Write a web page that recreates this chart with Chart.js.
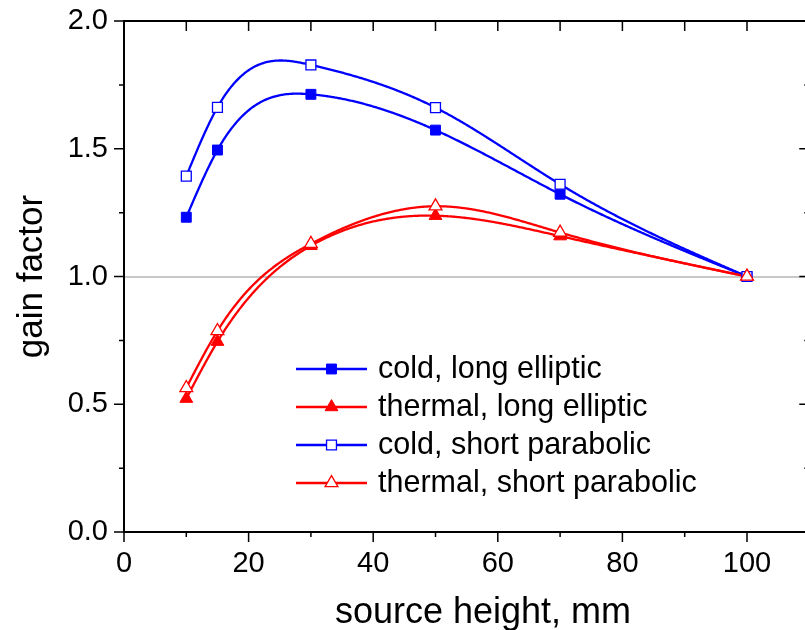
<!DOCTYPE html>
<html>
<head>
<meta charset="utf-8">
<script src="https://cdn.jsdelivr.net/npm/chart.js@4.4.1/dist/chart.umd.min.js"></script>
<style>
  html, body { margin: 0; padding: 0; background: #fff; overflow: hidden; }
  .gf-wrap { width: 805px; height: 630px; overflow: hidden; position: relative; }
  #gf-canvas { position: absolute; left: 0; top: 0; }
</style>
</head>
<body>
<div class="gf-wrap"><canvas id="gf-canvas" width="818" height="630"></canvas></div>
<script>
// ── Data ─────────────────────────────────────────────────────────────────────
const heights      = [10, 15, 30, 50, 70, 100];
const coldLong     = [1.232, 1.495, 1.713, 1.573, 1.322, 1.0];
const thermalLong  = [0.522, 0.745, 1.120, 1.238, 1.158, 1.0];
const coldShort    = [1.393, 1.662, 1.828, 1.661, 1.361, 1.0];
const thermalShort = [0.564, 0.787, 1.128, 1.275, 1.172, 1.0];
const seriesNames  = ['cold, long elliptic', 'thermal, long elliptic', 'cold, short parabolic', 'thermal, short parabolic'];
const xTicks = [0, 20, 40, 60, 80, 100];
const yTicks = [0.0, 0.5, 1.0, 1.5, 2.0];

const FONT = "'Liberation Sans', Arial, sans-serif";
const BLUE = '#0000ff';
const RED  = '#ff0000';

const toPoints = ys => heights.map((h, i) => ({ x: h, y: ys[i] }));

// later series are painted over earlier ones (lower order = on top)
function series(label, ys, color, style, filled, order) {
  const radius = style === 'triangle' ? 7.4 : 7;
  return {
    label,
    order,
    data: toPoints(ys),
    showLine: false,
    borderColor: color,
    backgroundColor: filled ? color : '#ffffff',
    pointStyle: style,
    pointRadius: radius,
    pointBorderWidth: filled ? 1 : 1.3,
    pointBorderColor: color,
    pointBackgroundColor: filled ? color : '#ffffff'
  };
}

// ── Natural cubic spline through the points of a series ──────────────────────
function naturalSpline(xs, ys) {
  const n = xs.length;
  const h = [], alpha = [0], l = [1], mu = [0], z = [0];
  for (let i = 0; i < n - 1; i++) h.push(xs[i + 1] - xs[i]);
  for (let i = 1; i < n - 1; i++) {
    alpha[i] = 3 / h[i] * (ys[i + 1] - ys[i]) - 3 / h[i - 1] * (ys[i] - ys[i - 1]);
  }
  for (let i = 1; i < n - 1; i++) {
    l[i]  = 2 * (xs[i + 1] - xs[i - 1]) - h[i - 1] * mu[i - 1];
    mu[i] = h[i] / l[i];
    z[i]  = (alpha[i] - h[i - 1] * z[i - 1]) / l[i];
  }
  const b = [], c = new Array(n).fill(0), d = [];
  for (let j = n - 2; j >= 0; j--) {
    c[j] = z[j] - mu[j] * c[j + 1];
    b[j] = (ys[j + 1] - ys[j]) / h[j] - h[j] * (c[j + 1] + 2 * c[j]) / 3;
    d[j] = (c[j + 1] - c[j]) / (3 * h[j]);
  }
  return v => {
    let j = 0;
    while (j < n - 2 && v > xs[j + 1]) j++;
    const t = v - xs[j];
    return ys[j] + b[j] * t + c[j] * t * t + d[j] * t * t * t;
  };
}

const splinePlugin = {
  id: 'splineLines',
  beforeDatasetsDraw(chart) {
    const { ctx, chartArea: a, scales: { x, y } } = chart;
    ctx.save();
    ctx.beginPath();
    ctx.rect(a.left, a.top, a.right - a.left, a.bottom - a.top);
    ctx.clip();
    ctx.lineWidth = 2.3;
    ctx.lineJoin = 'round';
    chart.data.datasets.forEach(ds => {
      const xs = ds.data.map(p => p.x);
      const ys = ds.data.map(p => p.y);
      const f = naturalSpline(xs, ys);
      const p0 = x.getPixelForValue(xs[0]);
      const p1 = x.getPixelForValue(xs[xs.length - 1]);
      ctx.beginPath();
      for (let px = p0; px <= p1 + 0.01; px += 1) {
        const py = y.getPixelForValue(f(x.getValueForPixel(px)));
        if (px === p0) ctx.moveTo(px, py); else ctx.lineTo(px, py);
      }
      ctx.strokeStyle = ds.borderColor;
      ctx.stroke();
    });
    ctx.restore();
  }
};

// ── Box frame, ticks and axis titles ─────────────────────────────────────────
const framePlugin = {
  id: 'frame',
  afterDraw(chart) {
    const { ctx, chartArea: a, scales: { x, y } } = chart;
    ctx.save();
    ctx.strokeStyle = '#000';
    ctx.lineWidth = 2;
    ctx.strokeRect(a.left, a.top, a.right - a.left, a.bottom - a.top);

    ctx.lineWidth = 1.5;
    ctx.beginPath();
    for (let v = 0; v <= 110; v += 10) {
      const px = x.getPixelForValue(v);
      const major = v % 20 === 0;
      ctx.moveTo(px, a.bottom); ctx.lineTo(px, a.bottom + (major ? 10 : 5));
      ctx.moveTo(px, a.top);    ctx.lineTo(px, a.top + 10);
    }
    for (let v = 0; v <= 2.001; v += 0.25) {
      const py = y.getPixelForValue(v);
      const major = Math.abs(v * 2 - Math.round(v * 2)) < 1e-6;
      ctx.moveTo(a.left, py);  ctx.lineTo(a.left - (major ? 10 : 5), py);
      ctx.moveTo(a.right, py); ctx.lineTo(a.right - (major ? 10 : 5), py);
    }
    ctx.stroke();

    ctx.fillStyle = '#000';
    ctx.font = `36px ${FONT}`;
    ctx.textAlign = 'center';
    ctx.textBaseline = 'alphabetic';
    ctx.fillText('source height, mm', 483, 623);

    ctx.save();
    ctx.translate(42, (a.top + a.bottom) / 2);
    ctx.rotate(-Math.PI / 2);
    ctx.font = `35px ${FONT}`;
    ctx.fillText('gain factor', 0, 0);
    ctx.restore();
    ctx.restore();
  }
};

// ── Legend: line sample with marker, then label ─────────────────────────────
const legendPlugin = {
  id: 'lineLegend',
  afterDatasetsDraw(chart) {
    const { ctx } = chart;
    const rowY = [369, 407, 445, 483];
    ctx.save();
    chart.data.datasets.forEach((ds, i) => {
      const yy = rowY[i];
      ctx.strokeStyle = ds.borderColor;
      ctx.lineWidth = 2.3;
      ctx.beginPath();
      ctx.moveTo(296, yy); ctx.lineTo(367, yy);
      ctx.stroke();
      ctx.fillStyle = ds.pointBackgroundColor;
      ctx.strokeStyle = ds.pointBorderColor;
      ctx.lineWidth = ds.pointBorderWidth;
      Chart.helpers.drawPoint(ctx, {
        pointStyle: ds.pointStyle, radius: ds.pointRadius, rotation: 0, borderWidth: ds.pointBorderWidth
      }, 331.5, yy);
      ctx.fillStyle = '#000';
      ctx.font = `30.5px ${FONT}`;
      ctx.textAlign = 'left';
      ctx.textBaseline = 'middle';
      ctx.fillText(ds.label, 378, yy + 1);
    });
    ctx.restore();
  }
};

const canvas = document.getElementById('gf-canvas');

new Chart(canvas, {
  type: 'scatter',
  data: {
    datasets: [
      series(seriesNames[0], coldLong, BLUE, 'rect', true, 4),
      series(seriesNames[1], thermalLong, RED, 'triangle', true, 3),
      series(seriesNames[2], coldShort, BLUE, 'rect', false, 2),
      series(seriesNames[3], thermalShort, RED, 'triangle', false, 1)
    ]
  },
  options: {
    responsive: false,
    animation: false,
    events: [],
    layout: { padding: { top: 21, right: 3, left: 0, bottom: 0 } },
    plugins: { legend: { display: false }, tooltip: { enabled: false } },
    scales: {
      x: {
        type: 'linear', min: 0, max: 110,
        afterFit: s => { s.height = 98; s.paddingLeft = 0; s.paddingRight = 0; },
        ticks: {
          stepSize: 20, includeBounds: false, padding: 15, maxRotation: 0, autoSkip: false,
          color: '#000', font: { family: FONT, size: 29 },
          callback: v => xTicks.includes(v) ? String(v) : ''
        },
        grid: { display: false, drawTicks: false },
        border: { display: false }
      },
      y: {
        min: 0, max: 2,
        afterFit: s => { s.width = 124; s.paddingTop = 0; s.paddingBottom = 0; },
        ticks: {
          stepSize: 0.5, padding: 16, color: '#000', font: { family: FONT, size: 29 },
          callback: v => yTicks.includes(v) ? v.toFixed(1) : ''
        },
        grid: {
          drawTicks: false, lineWidth: 2,
          color: c => (c.tick && c.tick.value === 1) ? '#c8c8c8' : 'rgba(0,0,0,0)'
        },
        border: { display: false }
      }
    }
  },
  plugins: [splinePlugin, framePlugin, legendPlugin]
});
</script>
</body>
</html>
